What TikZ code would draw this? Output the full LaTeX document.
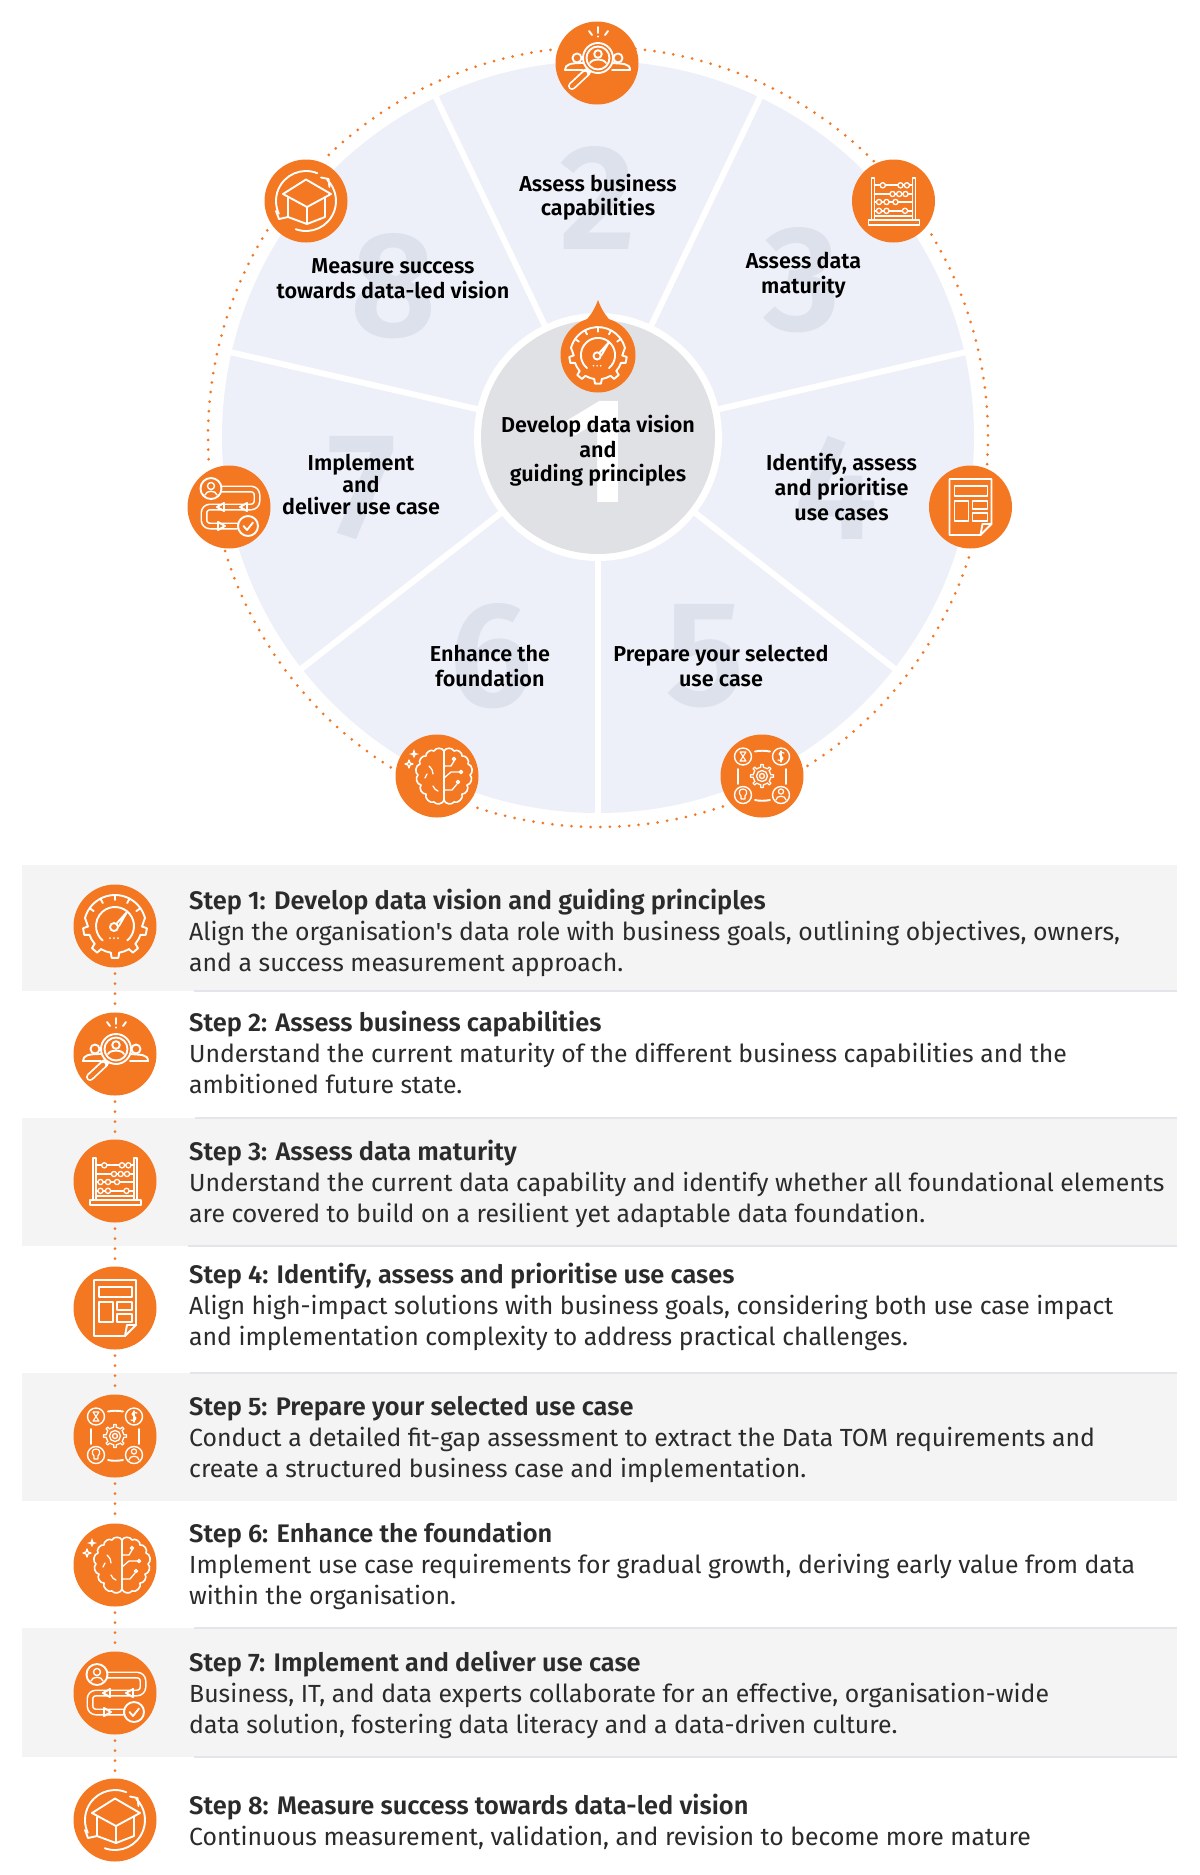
\documentclass[tikz,border=0pt]{standalone}
\usepackage{fontspec}
\setmainfont{Fira Sans}[Ligatures=TeXOff,BoldFont={Fira Sans SemiBold}]
\newfontfamily\numfont{Fira Sans SemiBold}
\definecolor{orng}{HTML}{F47722}
\definecolor{secfill}{HTML}{EDF0F8}
\definecolor{numcol}{HTML}{DDE1EC}
\definecolor{hubfill}{HTML}{DFE1E5}
\definecolor{bandfill}{HTML}{F4F4F5}
\definecolor{rulecol}{HTML}{E3E5EA}
\definecolor{txt}{HTML}{2B2B2B}
\tikzset{
  x=1pt,y=1pt,
  il/.style={draw=white,line width=1.9pt,line cap=round,line join=round},
  ilb/.style={il,fill=orng},
  iconcirc/.style={circle,fill=orng,minimum size=83pt,inner sep=0pt},
  hubicon/.style={circle,fill=orng,minimum size=75pt,inner sep=0pt},
  ringdots/.style={draw=orng,line width=3pt,line cap=round,dash pattern=on 0pt off 9.6pt},
  stepdots/.style={draw=orng,line width=3pt,line cap=round,dash pattern=on 0pt off 10pt,shorten >=6pt,shorten <=6pt},
  sepline/.style={draw=white,line width=6pt},
  bignum/.style={text=numcol,inner sep=0pt,font=\numfont\fontsize{150}{150}\selectfont},
  seclabel/.style={text=black,inner sep=0pt,align=center,font=\bfseries\fontsize{21.6}{24.6}\selectfont},
  steptext/.style={text=txt,inner sep=0pt,anchor=north west,align=left,font=\fontsize{24.8}{31}\selectfont},
  band/.style={fill=bandfill},
  rulel/.style={draw=rulecol,line width=1.6pt},
  pics/icongauge/.style={code={
    \draw[il] (-50:19) arc[start angle=-50,end angle=230,radius=19];
    \draw[il] (15:31) arc[start angle=15,end angle=165,radius=31];
    \foreach \a in {35,62,90,118,145}{\draw[il] (\a:26) -- (\a:31);}
    \foreach \a in {-170,-130,-90,-50,-10}{
      \draw[il] ({\a-9}:27) -- ({\a-6}:32) -- ({\a+6}:32) -- ({\a+9}:27);}
    \foreach \a in {-161,-121,-81,-41}{
      \draw[il] (\a:27) arc[start angle=\a,end angle=\a+22,radius=27];}
    \draw[il] (-179:27) -- (165:31);
    \draw[il] (-1:27) -- (15:31);
    \draw[il] (-1,-1) circle (4);
    \draw[il] (2,3) -- (12,14) -- (4,0);
    \foreach \p in {-5,-1,3}{\fill[white] (\p,-12) circle (1);}
  }},
  pics/iconlens/.style={code={
    \draw[white,line width=8pt,line cap=round] (-10,-9) -- (-25,-23);
    \draw[orng,line width=4.4pt,line cap=round] (-12,-11) -- (-25,-23);
    \draw[il] (-20,5) circle (4.5);
    \draw[il] (-32,-7) .. controls (-32,-1) and (-26,0) .. (-14,0);
    \draw[il] (-32,-7) -- (-14,-7);
    \draw[il] (21,5) circle (4.5);
    \draw[il] (15,0) .. controls (26,-1) and (33,0) .. (33,-7) -- (15,-7);
    \draw[ilb] (1,5) circle (15);
    \draw[il] (1,5) circle (11.5);
    \draw[il] (1,9) circle (3.8);
    \draw[il] (-7,0) .. controls (-5,4.5) and (7,4.5) .. (9,0);
    \draw[il] (1,36) -- (1,30); \fill[white] (1,26.5) circle (1.1);
    \draw[il] (-8,32) -- (-5,28);
    \draw[il] (11,32) -- (8,28);
  }},
  pics/iconabacus/.style={code={
    \draw[il] (-25,-19) rectangle (26,-24);
    \draw[il] (-22,-19) -- (-22,23) -- (-19,23) -- (-19,-19);
    \draw[il] (19,-19) -- (19,23) -- (22,23) -- (22,-19);
    \foreach \yy/\list in {15.7/{-10.7,7,13.4},7/{-1,5.7,12},-1/{-14.5,-7,2},-9.8/{-14.5,-7,11.5}}{
      \draw[il] (-19,\yy) -- (19,\yy);
      \foreach \bx in \list {\draw[ilb,line width=1.3pt] (\bx,\yy) circle (2.6);}
    }
    \draw[il] (-19,-15) -- (19,-15);
  }},
  pics/icondoc/.style={code={
    \draw[il] (-21,28) -- (21,28) -- (21,-17) -- (10,-28) -- (-21,-28) -- cycle;
    \draw[il] (21,-17) -- (12,-17) -- (10,-28);
    \draw[il] (-16,21) rectangle (17,11);
    \draw[il] (-16,6) rectangle (-2,-14);
    \draw[il] (2,6) rectangle (17,-2);
    \draw[il] (2,-6) rectangle (17,-14);
  }},
  pics/iconhub/.style={code={
    \foreach \p in {(-19,19.5),(19,19.5),(-19,-19),(19,-19)}{\draw[il,line width=1.4pt] \p circle (8.5);}
    \draw[il] (-7,24.5) .. controls (-3,25.5) and (3,25.5) .. (8,24.5);
    \draw[il] (-7,-24) .. controls (-3,-25) and (3,-25) .. (8,-24);
    \draw[il] (-24,7) -- (-24,-8);
    \draw[il] (24,7) -- (24,-8);
    \foreach \a in {0,45,...,315}{
      \draw[il,line width=1.3pt] ({\a-8}:9) -- ({\a-6}:11.5) -- ({\a+6}:11.5) -- ({\a+8}:9) arc[start angle=\a+8,end angle=\a+37,radius=9];}
    \draw[il,line width=1.3pt] (0,0) circle (5.5);
    \draw[il,line width=1.3pt] (0,0) circle (2.5);
    \draw[il,line width=1.1pt] (-22,24) -- (-16,24) -- (-22,15) -- (-16,15) -- cycle;
    \draw[il,line width=1.2pt] (22,23) .. controls (18,25) and (15,22) .. (19,20) .. controls (23,18) and (20,14) .. (16,16);
    \draw[il,line width=1.2pt] (19,25) -- (19,14);
    \draw[il,line width=1.2pt] (-21,-23) -- (-21,-20) .. controls (-24,-17) and (-23,-13) .. (-19,-13) .. controls (-15,-13) and (-14,-17) .. (-17,-20) -- (-17,-23) -- cycle;
    \draw[il,line width=1.2pt] (19,-15.5) circle (2.6);
    \draw[il,line width=1.2pt] (14,-24) .. controls (14,-19) and (24,-19) .. (24,-24);
  }},
  pics/iconbrain/.style={code={
    \draw[il,line width=1.6pt] (7,25) to[bend right=70] (-3,25) to[bend right=70] (-11,20) to[bend right=70] (-17,12) to[bend right=70] (-19,1) to[bend right=70] (-16,-9) to[bend right=70] (-11,-18) to[bend right=70] (-3,-26) to[bend right=70] (7,-24);
    \draw[il,line width=1.6pt] (7,25) to[bend left=70] (17,25) to[bend left=70] (25,20) to[bend left=70] (31,12) to[bend left=70] (33,1) to[bend left=70] (30,-9) to[bend left=70] (25,-18) to[bend left=70] (17,-26) to[bend left=70] (7,-24);
    \draw[il,line width=1.6pt] (7,25) -- (7,-24);
    \draw[il,line width=1.3pt] (-8,10) .. controls (-5,7) and (-4,5) .. (-4,2);
    \draw[il,line width=1.3pt] (-12,-2) -- (-10,2);
    \draw[il,line width=1.3pt] (-4,-10) .. controls (-3,-13) and (-1,-14) .. (1,-15);
    \draw[il,line width=1.3pt] (7,10) -- (14,10) -- (17,15); \draw[il,line width=1.3pt] (17,17) circle (1.6);
    \draw[il,line width=1.3pt] (7,-2) -- (14,4) -- (22,4); \draw[il,line width=1.3pt] (24,4) circle (1.6);
    \draw[il,line width=1.3pt] (7,-14) -- (15,-14) -- (20,-8); \draw[il,line width=1.3pt] (21,-6) circle (1.6);
    \fill[white] (-23,18) -- (-21.5,21) -- (-18,22) -- (-21.5,23) -- (-23,27) -- (-24.5,23) -- (-28,22) -- (-24.5,21) -- cycle;
    \draw[il,line width=1.3pt] (-28,8) -- (-27,11) -- (-24,12) -- (-27,13) -- (-28,16) -- (-29,13) -- (-32,12) -- (-29,11) -- cycle;
  }},
  pics/iconflow/.style={code={
    \draw[white,line width=7pt,line cap=round,line join=round,rounded corners=6pt] (-8,18) -- (28,18) -- (28,0) -- (-25,0) -- (-25,-19) -- (8,-19);
    \draw[orng,line width=3.8pt,line cap=round,line join=round,rounded corners=6pt] (-8,18) -- (28,18) -- (28,0) -- (-25,0) -- (-25,-19) -- (8,-19);
    \draw[ilb] (-18,18.5) circle (10.5);
    \draw[il,line width=1.4pt] (-18,21) circle (3.5);
    \draw[il,line width=1.4pt] (-24,12) .. controls (-23,17) and (-13,17) .. (-12,12);
    \draw[ilb] (19,-19) circle (10);
    \draw[il] (14.5,-19) -- (18,-23) -- (24,-15.5);
    \draw[il,fill=orng] (-5,4) -- (-12,0) -- (-5,-4) -- cycle;
    \draw[il,fill=orng] (18,4) -- (11,0) -- (18,-4) -- cycle;
    \draw[il,fill=orng] (-11,-15) -- (-4,-19) -- (-11,-23) -- cycle;
  }},
  pics/iconcycle/.style={code={
    \draw[il] (68:30) arc[start angle=68,end angle=205,radius=30];
    \draw[il] (-110:30) arc[start angle=-110,end angle=45,radius=30];
    \draw[il] (15,23.5) -- (22.5,22) -- (23.5,14);
    \draw[il] (-30,-10) -- (-27,-18) -- (-18,-16);
    \draw[il] (0,21.5) -- (25,7) -- (1,-6) -- (-23,7) -- cycle;
    \draw[il] (-18,3) -- (-18,-16) -- (1,-23) -- (19,-16) -- (19,3);
    \draw[il] (1,-6) -- (1,-23);
  }}
}
\newcommand{\seclabelnode}[4]{\node[seclabel] (#1) at (#2,-#3) {#4};}
\newcommand{\numnode}[4]{\node[bignum] (#1) at (#2,-#3) {#4};}
\newcommand{\steprow}[6]{%
  \node[iconcirc] (s#1) at (115,-#2) {};
  \pic at (s#1) {#3};
  \node[steptext] (t#1) at (189,{-(#4-21.7)}) {\strut{\bfseries\fontsize{25.4}{31}\selectfont #5}\\#6};
}
\begin{document}
\begin{tikzpicture}
\useasboundingbox (0,0) rectangle (1200,-1875);
\fill[white] (0,0) rectangle (1200,-1875);
\coordinate (c) at (598,-437);
% wheel
\fill[secfill] (c) circle (376);
\numnode{n2}{598}{198}{2}
\numnode{n3}{802}{280}{3}
\numnode{n4}{836}{488}{4}
\numnode{n5}{705}{656}{5}
\numnode{n6}{491}{656}{6}
\numnode{n7}{362}{488}{7}
\numnode{n8}{394}{286}{8}
\foreach \a in {115.5,64.5,13,-38,-90,-142,167}{
  \draw[sepline] (c) -- ([shift={(\a:380)}]c);}
\fill[white] (c) circle (124);
\fill[hubfill] (c) circle (117);
\node[bignum,text=white] (n1) at (598,-452) {1};
% ring of dots
\foreach \a/\b in {97/134,148/184,-163/-122,-108/-71,-57.5/-17,-4/32,84.5/45}{
  \draw[ringdots] ([shift={(\a:390)}]c) arc[start angle=\a,end angle=\b,radius=390];}
% teardrop and centre icon
\node[hubicon] (hub) at (598,-355) {};
\fill[orng] (598,-300) .. controls (594,-311) and (590,-316) .. (582,-325) -- (614,-325) .. controls (606,-316) and (602,-311) .. (598,-300) -- cycle;
\pic[scale=.9] at (hub) {icongauge};
% ring icons
\node[iconcirc] (r2) at (597,-63) {};  \pic at (r2) {iconlens};
\node[iconcirc] (r3) at (893.5,-201) {}; \pic at (r3) {iconabacus};
\node[iconcirc] (r4) at (970.5,-507) {}; \pic at (r4) {icondoc};
\node[iconcirc] (r5) at (762,-776) {}; \pic at (r5) {iconhub};
\node[iconcirc] (r6) at (437,-776) {}; \pic at (r6) {iconbrain};
\node[iconcirc] (r7) at (229,-507) {}; \pic at (r7) {iconflow};
\node[iconcirc] (r8) at (306,-201) {}; \pic at (r8) {iconcycle};
% wheel labels
\seclabelnode{l1}{598}{451}{Develop data vision\\and\\guiding principles}
\seclabelnode{l2}{598}{197}{Assess business\\capabilities}
\seclabelnode{l3}{803.5}{275}{Assess data\\maturity}
\seclabelnode{l4}{841.5}{487}{Identify, assess\\and prioritise\\use cases}
\seclabelnode{l5}{721}{666}{Prepare your selected\\use case}
\seclabelnode{l6}{490}{666}{Enhance the\\foundation}
\node[seclabel,font=\bfseries\fontsize{21.6}{22}\selectfont] (l7) at (361,-484) {Implement\\and\\deliver use case};
\seclabelnode{l8}{393}{278.5}{Measure success\\towards data-led vision}
% bands
\fill[band] (22,-864.5) rectangle (1177,-991);
\fill[band] (22,-1118) rectangle (1177,-1246);
\fill[band] (22,-1373) rectangle (1177,-1501);
\fill[band] (22,-1628) rectangle (1177,-1757);
\foreach \yy/\xx in {991/194,1118/195,1246/188,1373/190,1628/194,1757/194}{
  \draw[rulel] (\xx,-\yy) -- (1177,-\yy);}
% rows
\steprow{1}{926}{icongauge}{909.4}{Step 1: Develop data vision and guiding principles}{Align the organisation's data role with business goals, outlining objectives, owners,\\and a success measurement approach.}
\steprow{2}{1054}{iconlens}{1031}{Step 2: Assess business capabilities}{Understand the current maturity of the different business capabilities and the\\ambitioned future state.}
\steprow{3}{1181}{iconabacus}{1160}{Step 3: Assess data maturity}{Understand the current data capability and identify whether all foundational elements\\are covered to build on a resilient yet adaptable data foundation.}
\steprow{4}{1308}{icondoc}{1283.5}{Step 4: Identify, assess and prioritise use cases}{Align high-impact solutions with business goals, considering both use case impact\\and implementation complexity to address practical challenges.}
\steprow{5}{1436}{iconhub}{1415}{Step 5: Prepare your selected use case}{Conduct a detailed fit-gap assessment to extract the Data TOM requirements and\\create a structured business case and implementation.}
\steprow{6}{1565}{iconbrain}{1542}{Step 6: Enhance the foundation}{Implement use case requirements for gradual growth, deriving early value from data\\within the organisation.}
\steprow{7}{1693}{iconflow}{1671}{Step 7: Implement and deliver use case}{Business, IT, and data experts collaborate for an effective, organisation-wide\\data solution, fostering data literacy and a data-driven culture.}
\steprow{8}{1820}{iconcycle}{1814.5}{Step 8: Measure success towards data-led vision}{Continuous measurement, validation, and revision to become more mature}
\foreach \i [remember=\i as \j (initially 1)] in {2,...,8}{
  \draw[stepdots] (s\j) -- (s\i);}
\end{tikzpicture}
\end{document}
